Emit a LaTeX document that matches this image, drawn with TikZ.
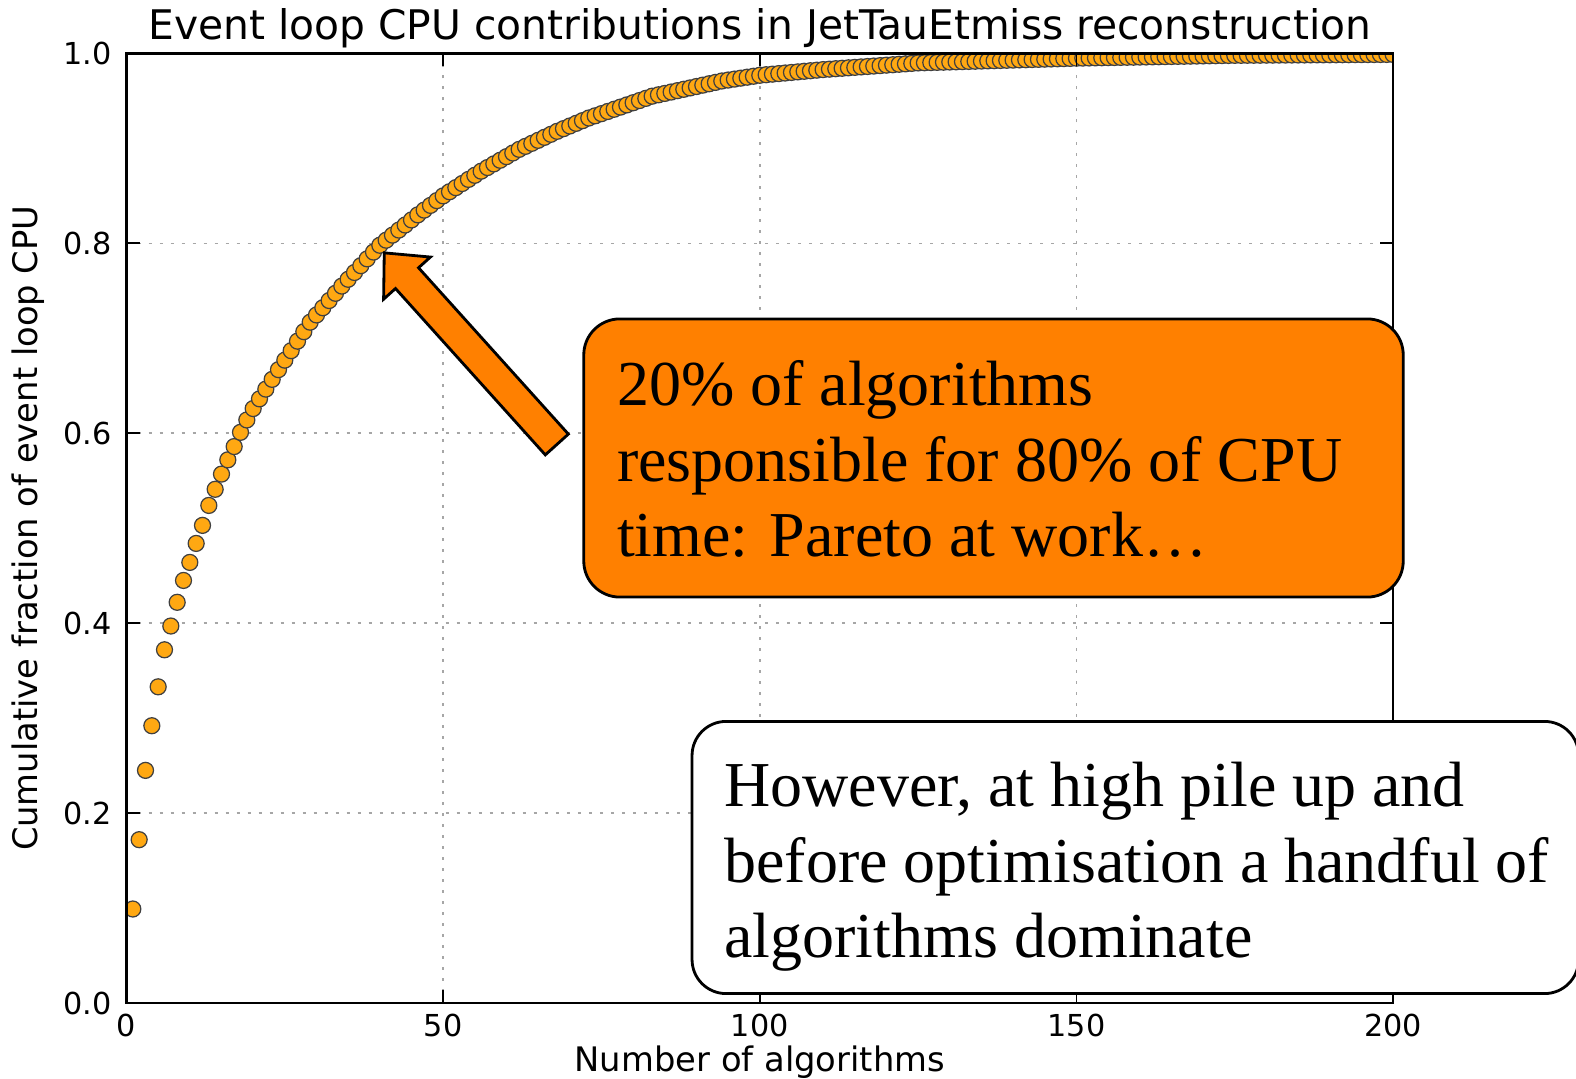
\documentclass[tikz,border=0pt]{standalone}
\usepackage{fontspec}
\setmainfont{Liberation Serif}
\newfontfamily\plotfont{DejaVu Sans}
\usepackage{tikz}
\usetikzlibrary{calc,positioning}
\definecolor{calloutorange}{RGB}{255,128,0}
\definecolor{dotorange}{RGB}{255,168,18}

\begin{document}
\begin{tikzpicture}[
    x=0.01cm, y=-0.01cm,
    font=\plotfont,
    frame/.style={line width=0.7pt, black},
    gridline/.style={black!35, line width=0.45pt, dash pattern=on 0.03cm off 0.08cm},
    tickmark/.style={line width=0.5pt, black},
    ticklabel/.style={font=\plotfont\fontsize{8.6pt}{10pt}\selectfont, inner sep=0pt},
    axislabel/.style={font=\plotfont\fontsize{9.6pt}{11pt}\selectfont, inner sep=0pt},
    algdot/.style={fill=dotorange, draw=black!75, line width=0.35pt},
    callout/.style={
		rectangle,
		rounded corners=0.36cm,
		draw=black,
		line width=0.8pt,
		fill=calloutorange
	},
    note/.style={
		rectangle,
		rounded corners=0.34cm,
		draw=black,
		line width=0.8pt,
		fill=white
	},
    calltext/.style={font=\rmfamily\fontsize{18.2pt}{21.5pt}\selectfont, inner sep=0pt, anchor=base west},
    blockarrow/.style={fill=calloutorange, draw=black, line width=0.8pt}
  ]
  \useasboundingbox (0,0) rectangle (1576,1079);

  % the plot, in data coordinates
  \begin{scope}[shift={(126.5,1003)}, x=0.0633cm, y=9.49cm]
    \foreach \xv in {50,100,150}
      \draw[gridline] (\xv,0) -- (\xv,1);
    \foreach \yv in {0.2,0.4,0.6,0.8}
      \draw[gridline] (0,\yv) -- (200,\yv);

    \begin{scope}
      \clip (0,0) rectangle (200,1);
      \foreach \n/\f in {1/.099, 2/.172, 3/.245, 4/.292, 5/.333, 6/.372, 7/.397,
          8/.422, 9/.445, 10/.464, 11/.484, 12/.503, 13/.524, 14/.541,
          15/.557, 16/.572, 17/.586, 18/.601, 19/.614}
        \filldraw[algdot] (\n,\f) circle (0.08cm);
      \foreach \na/\fa/\nb/\fb in {20/.626/24/.667, 24/.667/29/.717, 29/.717/34/.755,
          34/.755/40/.798, 40/.798/46/.830, 46/.830/50/.850, 50/.850/56/.876,
          56/.876/62/.899, 62/.899/68/.918, 68/.918/73/.932, 73/.932/83/.955,
          83/.955/94/.971, 94/.971/100/.977, 100/.977/110/.983, 110/.983/125/.990,
          125/.990/150/.995, 150/.995/175/.998, 175/.998/200/.999}{
        \pgfmathtruncatemacro{\nl}{\nb-1}
        \foreach \n in {\na,...,\nl}{
          \pgfmathsetmacro{\f}{\fa+(\fb-\fa)*(\n-\na)/(\nb-\na)}
          \filldraw[algdot] (\n,\f) circle (0.08cm);
        }
      }
      \filldraw[algdot] (200,.999) circle (0.08cm);
    \end{scope}

    \draw[frame] (0,0) rectangle (200,1);
    \foreach \xv in {0,50,100,150,200}{
      \draw[tickmark] (\xv,0) -- ++(0,0.13cm);
      \draw[tickmark] (\xv,1) -- ++(0,-0.13cm);
      \node[ticklabel, anchor=north, yshift=-0.1cm] (xtick\xv) at (\xv,0) {\xv};
    }
    \foreach \yv/\yl in {0/0.0, 0.2/0.2, 0.4/0.4, 0.6/0.6, 0.8/0.8, 1/1.0}{
      \draw[tickmark] (0,\yv) -- ++(0.13cm,0);
      \draw[tickmark] (200,\yv) -- ++(-0.13cm,0);
      \node[ticklabel, anchor=east, xshift=-0.145cm] (ytick\yl) at (0,\yv) {\yl};
    }

    \node[font=\plotfont\fontsize{11.6pt}{13pt}\selectfont, anchor=base, yshift=0.14cm] (title) at (100,1)
      {Event loop CPU contributions in JetTauEtmiss reconstruction};
    \node[axislabel, anchor=base, yshift=-0.68cm] (xlabel) at (100,0) {Number of algorithms};
    \node[axislabel, rotate=90] (ylabel) at ($(0,0.5)+(-0.985cm,0)$) {Cumulative fraction of event loop CPU};

    \coordinate (eighty) at (40.7,0.79);
  \end{scope}

  % the two boxes
  \node[callout, minimum width=8.19cm, minimum height=2.78cm] (paretobox) at (993.5,458) {};
  \node[calltext] (paretotext) at ([xshift=0.34cm, yshift=-0.88cm]paretobox.north west)
 {%
 \begin{tabular}[t]{@{}l@{}}
  20\% of algorithms\\
  responsible for 80\% of CPU\\
  time: Pareto at work…
 \end{tabular}
 };

  \node[note, minimum width=8.86cm, minimum height=2.72cm] (notebox) at (1135.3,857.5) {};
  \node[calltext] (notetext) at ([xshift=0.331cm, yshift=-0.866cm]notebox.north west)
 {%
 \begin{tabular}[t]{@{}l@{}}
  However, at high pile up and\\
  before optimisation a handful of\\
  algorithms dominate
 \end{tabular}
 };

  % block arrow from the orange box to the curve
  \coordinate (arrowtail) at ([xshift=-0.255cm, yshift=0.135cm]paretobox.west);
  \coordinate (headbase) at ($(eighty)!0.34cm!(arrowtail)$);
  \filldraw[blockarrow] (eighty)
    -- ($(headbase)!0.315cm!90:(eighty)$)
    -- ($(headbase)!0.155cm!90:(eighty)$)
    -- ($(arrowtail)!0.155cm!90:(eighty)$)
    -- ($(arrowtail)!0.155cm!-90:(eighty)$)
    -- ($(headbase)!0.155cm!-90:(eighty)$)
    -- ($(headbase)!0.315cm!-90:(eighty)$)
    -- cycle;
\end{tikzpicture}
\end{document}
